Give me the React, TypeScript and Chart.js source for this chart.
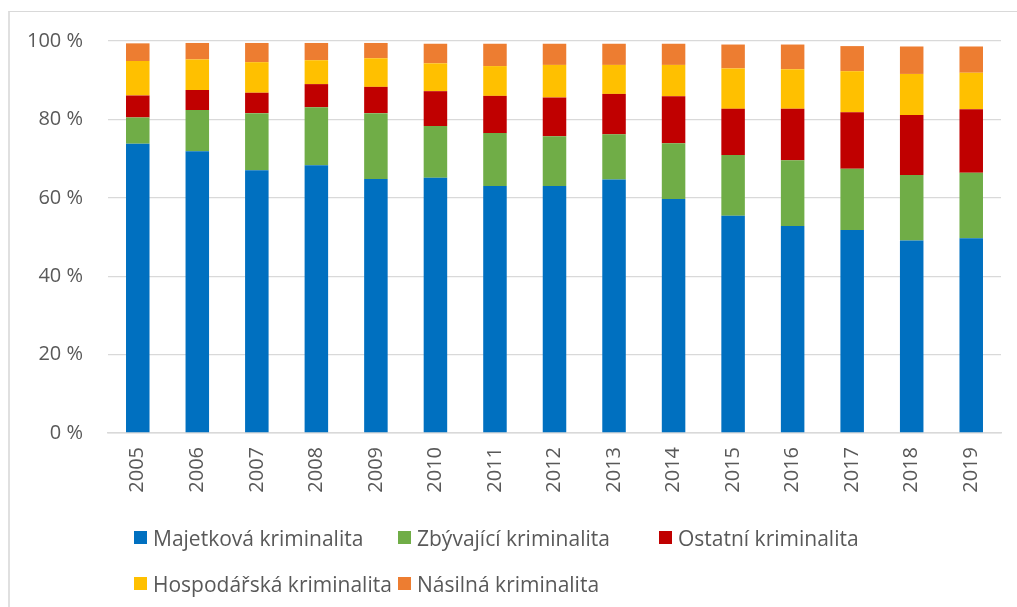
import React, { useEffect, useRef } from "react";
import { Chart, registerables } from "chart.js";

Chart.register(...registerables);

const years = ["2005", "2006", "2007", "2008", "2009", "2010", "2011", "2012", "2013", "2014", "2015", "2016", "2017", "2018", "2019"];
const majetkova = [73.8, 71.9, 67.0, 68.3, 64.8, 65.1, 63.0, 63.0, 64.7, 59.7, 55.4, 52.8, 51.8, 49.1, 49.7];
const zbyvajici = [6.7, 10.5, 14.6, 14.8, 16.8, 13.2, 13.5, 12.7, 11.5, 14.2, 15.5, 16.8, 15.6, 16.7, 16.7];
const ostatni = [5.6, 5.1, 5.2, 5.9, 6.7, 8.9, 9.5, 9.9, 10.3, 12.0, 11.8, 13.1, 14.4, 15.3, 16.2];
const hospodarska = [8.8, 7.8, 7.8, 6.1, 7.3, 7.1, 7.6, 8.3, 7.4, 8.0, 10.3, 10.1, 10.5, 10.5, 9.3];
const nasilna = [4.5, 4.2, 4.9, 4.4, 3.9, 5.0, 5.7, 5.4, 5.4, 5.4, 6.1, 6.3, 6.4, 7.0, 6.7];
const yTicks = [0, 20, 40, 60, 80, 100];

const seriesNames = ["Majetková kriminalita", "Zbývající kriminalita", "Ostatní kriminalita", "Hospodářská kriminalita", "Násilná kriminalita"];
const seriesColors = ["#0070C0", "#70AD47", "#C00000", "#FFC000", "#ED7D31"];
const seriesData = [majetkova, zbyvajici, ostatni, hospodarska, nasilna];

const FONT = "'Open Sans', 'Noto Sans', sans-serif";
const TEXT = "#595959";

export default function App() {
  const ref = useRef<HTMLCanvasElement | null>(null);

  useEffect(() => {
    if (!ref.current) return;
    const chart = new Chart(ref.current, {
      type: "bar",
      data: {
        labels: years,
        datasets: seriesNames.map((name, i) => ({
          label: name,
          data: seriesData[i],
          backgroundColor: seriesColors[i],
          borderWidth: 0,
          barPercentage: 0.395,
          categoryPercentage: 1,
        })),
      },
      options: {
        responsive: false,
        maintainAspectRatio: false,
        animation: false,
        layout: { padding: { left: 0, top: 41, right: 16, bottom: 0 } },
        plugins: { legend: { display: false }, tooltip: { enabled: false } },
        scales: {
          x: {
            stacked: true,
            grid: { display: false, drawTicks: false },
            border: { display: true, color: "#D9D9D9", width: 1.5 },
            ticks: {
              color: TEXT,
              font: { family: FONT, size: 20 },
              minRotation: 90,
              maxRotation: 90,
              padding: 14,
              autoSkip: false,
            },
            afterFit: (s: any) => {
              s.height = 174;
            },
          },
          y: {
            stacked: true,
            min: 0,
            max: 100,
            afterBuildTicks: (s: any) => {
              s.ticks = yTicks.map((v) => ({ value: v }));
            },
            grid: { color: "#D9D9D9", lineWidth: 1.3, drawTicks: false },
            border: { display: false },
            ticks: {
              color: TEXT,
              font: { family: FONT, size: 20 },
              padding: 25,
              callback: (v: any) => `${v} %`,
            },
            afterFit: (s: any) => {
              s.width = 108;
            },
          },
        },
      },
    });
    return () => chart.destroy();
  }, []);

  const colLeft = [134, 398, 659];
  const rowTop = [531, 577];

  return (
    <div style={{ position: "fixed", left: 0, top: 0, width: 1017, height: 607, overflow: "hidden", background: "#fff" }}>
      <div
        style={{
          position: "absolute",
          left: 8,
          top: 11,
          width: 1100,
          height: 700,
          borderLeft: "2px solid #E0E0E0",
          borderTop: "1px solid #D9D9D9",
        }}
      />
      <canvas ref={ref} width={1017} height={607} style={{ position: "absolute", left: 0, top: 0, display: "block" }} />
      {seriesNames.map((name, i) => (
        <div
          key={name}
          style={{
            position: "absolute",
            left: colLeft[i % 3],
            top: rowTop[Math.floor(i / 3)] - 8,
            height: 29,
            display: "flex",
            alignItems: "center",
            whiteSpace: "nowrap",
            fontFamily: FONT,
            fontSize: 21,
            color: TEXT,
          }}
        >
          <span style={{ display: "inline-block", width: 13, height: 13, background: seriesColors[i], marginRight: 6 }} />
          <span>{name}</span>
        </div>
      ))}
    </div>
  );
}
